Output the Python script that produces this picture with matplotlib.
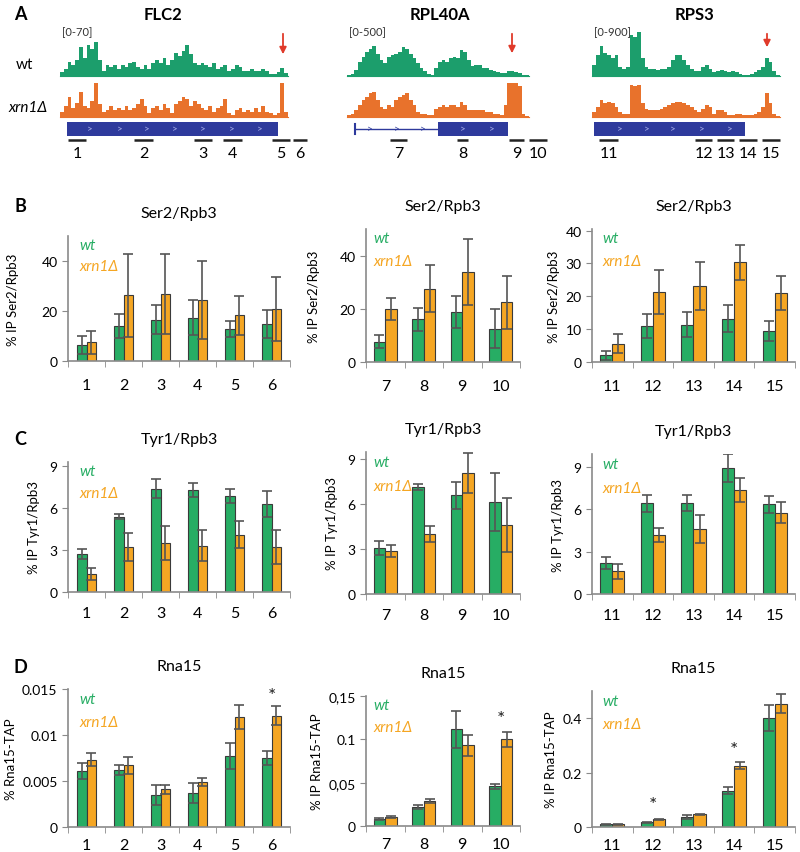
import matplotlib.pyplot as plt
import numpy as np

plt.rcParams["font.family"] = ["Lato", "DejaVu Sans"]

W, H = 800, 853
GREEN = "#27ad64"
ORANGE = "#f5a623"
TR_GREEN = "#1c9e6c"
TR_ORANGE = "#e8722c"
BLUE = "#2e3a9c"
EDGE = "#3a3a3a"
ERR = "#555555"
SPINE = "#8a8a8a"

# ---------------- panel A : coverage tracks (relative heights) ----------------
genes = ["FLC2", "RPL40A", "RPS3"]
scale_labels = ["[0-70]", "[0-500]", "[0-900]"]

flc2_wt = [0.1, 0.2, 0.4, 0.3, 0.45, 0.8, 0.5, 0.85, 0.75, 0.95, 0.45, 0.15, 0.3, 0.25, 0.3,
           0.2, 0.3, 0.25, 0.35, 0.4, 0.25, 0.2, 0.3, 0.2, 0.35, 0.45, 0.35, 0.5, 0.3, 0.45,
           0.65, 0.55, 0.7, 0.85, 0.6, 0.35, 0.3, 0.35, 0.3, 0.25, 0.35, 0.2, 0.25, 0.3, 0.15,
           0.2, 0.3, 0.25, 0.15, 0.15, 0.2, 0.15, 0.15, 0.2, 0.15, 0.05, 0.05, 0.1, 0.22, 0.08]
flc2_xrn1 = [0.15, 0.3, 0.55, 0.25, 0.4, 0.7, 0.3, 0.25, 0.45, 0.95, 0.35, 0.15, 0.2, 0.3, 0.2,
             0.25, 0.2, 0.3, 0.2, 0.25, 0.35, 0.5, 0.3, 0.1, 0.25, 0.3, 0.2, 0.35, 0.25, 0.1,
             0.35, 0.45, 0.55, 0.5, 0.3, 0.45, 0.35, 0.25, 0.2, 0.3, 0.15, 0.25, 0.3, 0.5, 0.1,
             0.05, 0.2, 0.25, 0.15, 0.2, 0.15, 0.25, 0.15, 0.3, 0.15, 0.1, 0.05, 0.1, 0.95, 0.15]
rpl40a_wt = [0.02, 0.05, 0.2, 0.45, 0.6, 0.75, 0.85, 0.95, 0.7, 0.5, 0.4, 0.6, 0.65, 0.7, 0.75,
             0.9, 0.85, 0.7, 0.55, 0.4, 0.25, 0.15, 0.05, 0.03, 0.25, 0.45, 0.5, 0.45, 0.55, 0.6,
             0.55, 0.8, 0.75, 0.5, 0.3, 0.35, 0.35, 0.25, 0.25, 0.2, 0.15, 0.12, 0.08, 0.1, 0.15,
             0.15, 0.12, 0.08, 0.04, 0.02]
rpl40a_xrn1 = [0.05, 0.1, 0.2, 0.35, 0.5, 0.6, 0.7, 0.75, 0.5, 0.3, 0.25, 0.35, 0.3, 0.5, 0.6,
               0.65, 0.7, 0.5, 0.35, 0.15, 0.1, 0.08, 0.05, 0.05, 0.25, 0.3, 0.35, 0.3, 0.35, 0.35,
               0.3, 0.45, 0.35, 0.2, 0.2, 0.2, 0.2, 0.2, 0.15, 0.15, 0.1, 0.08, 0.05, 0.35, 1.0,
               1.0, 1.0, 0.9, 0.1, 0.03]
rps3_wt = [0.25, 0.45, 0.65, 0.5, 0.45, 0.4, 0.45, 0.2, 0.15, 0.2, 0.9, 0.85, 0.95, 0.4, 0.2,
           0.15, 0.15, 0.12, 0.15, 0.15, 0.2, 0.35, 0.45, 0.45, 0.35, 0.25, 0.15, 0.1, 0.1, 0.2,
           0.25, 0.15, 0.08, 0.1, 0.12, 0.1, 0.08, 0.1, 0.08, 0.05, 0.03, 0.03, 0.05, 0.08, 0.12,
           0.2, 0.4, 0.3, 0.1, 0.02]
rps3_xrn1 = [0.15, 0.3, 0.5, 0.4, 0.45, 0.4, 0.3, 0.15, 0.1, 0.1, 0.95, 0.9, 0.95, 0.4, 0.25,
             0.2, 0.2, 0.2, 0.25, 0.3, 0.35, 0.4, 0.45, 0.45, 0.4, 0.35, 0.3, 0.2, 0.15, 0.25,
             0.35, 0.3, 0.1, 0.2, 0.2, 0.15, 0.05, 0.05, 0.1, 0.08, 0.05, 0.05, 0.05, 0.08, 0.15,
             0.3, 0.7, 0.4, 0.1, 0.03]

wt_tracks = [flc2_wt, rpl40a_wt, rps3_wt]
xrn1_tracks = [flc2_xrn1, rpl40a_xrn1, rps3_xrn1]

# browser layout (screen positions of the gene view)
track_span = [(60, 288), (347, 529), (592, 780)]
track_height_wt = [36, 32, 46]
track_height_xrn1 = [36, 34, 34]
gene_boxes = [(67, 278), (438, 508), (594, 745)]
intron_lines = [None, (355, 438), None]
chevrons = [[90, 120, 147, 175, 203, 232, 260], [370, 397, 423, 463, 492], [620, 647, 673, 702, 730]]
amplicon_labels = [["1", "2", "3", "4", "5", "6"], ["7", "8", "9", "10"], ["11", "12", "13", "14", "15"]]
amplicon_spans = [[(68, 86), (134, 153), (194, 212), (223, 242), (272, 290), (293, 307)],
                  [(390, 407), (457, 468), (509, 524), (529, 547)],
                  [(599, 618), (695, 712), (717, 734), (739, 757), (762, 780)]]
arrow_x = [283, 512, 767]
arrow_end = [58, 57, 51]
title_x = [163, 440, 695]

# ---------------- bar data ----------------
flc2_sites = ["1", "2", "3", "4", "5", "6"]
rpl40a_sites = ["7", "8", "9", "10"]
rps3_sites = ["11", "12", "13", "14", "15"]

ser2_wt = [[6.6, 14.2, 16.5, 17.4, 12.9, 14.8], [7.6, 16.0, 18.9, 12.5], [2.0, 11.0, 11.3, 13.2, 9.5]]
ser2_wt_sd = [[3.6, 4.8, 5.8, 7.0, 3.2, 5.7], [2.4, 4.4, 6.1, 7.4], [1.4, 3.6, 3.8, 4.2, 3.0]]
ser2_xrn1 = [[7.6, 26.4, 26.9, 24.5, 18.4, 21.0], [19.8, 27.6, 33.9, 22.4], [5.6, 21.4, 23.0, 30.3, 21.0]]
ser2_xrn1_sd = [[4.6, 16.6, 16.1, 15.5, 7.8, 12.8], [4.1, 8.9, 12.5, 9.9], [2.8, 6.7, 7.3, 5.3, 5.3]]

tyr1_wt = [[2.7, 5.4, 7.4, 7.3, 6.9, 6.3], [3.07, 7.14, 6.6, 6.15], [2.2, 6.4, 6.45, 8.9, 6.35]]
tyr1_wt_sd = [[0.35, 0.15, 0.65, 0.5, 0.5, 0.9], [0.45, 0.2, 0.9, 1.95], [0.4, 0.6, 0.55, 1.0, 0.6]]
tyr1_xrn1 = [[1.3, 3.2, 3.5, 3.3, 4.1, 3.2], [2.9, 4.0, 8.1, 4.6], [1.6, 4.15, 4.6, 7.35, 5.75]]
tyr1_xrn1_sd = [[0.45, 1.0, 1.2, 1.1, 0.95, 1.2], [0.4, 0.55, 1.35, 1.8], [0.55, 0.5, 1.0, 0.87, 0.75]]

rna15_wt = [[0.0061, 0.0062, 0.0035, 0.0037, 0.0077, 0.0075], [0.0077, 0.0223, 0.1115, 0.046],
            [0.0098, 0.018, 0.037, 0.134, 0.400]]
rna15_wt_sd = [[0.0009, 0.0005, 0.0011, 0.0011, 0.0014, 0.0008], [0.0013, 0.0023, 0.021, 0.003],
               [0.001, 0.002, 0.006, 0.012, 0.048]]
rna15_xrn1 = [[0.0073, 0.0067, 0.0041, 0.0049, 0.0120, 0.0121], [0.010, 0.0288, 0.093, 0.100],
              [0.010, 0.028, 0.046, 0.226, 0.454]]
rna15_xrn1_sd = [[0.0007, 0.0009, 0.0005, 0.0004, 0.0013, 0.0010], [0.001, 0.0027, 0.012, 0.009],
                 [0.001, 0.002, 0.003, 0.012, 0.034]]
rna15_stars = [[(5, 0.0143)], [(3, 0.124)], [(1, 0.082), (3, 0.285)]]


def px_axes(fig, x0, y0, x1, y1):
    return fig.add_axes([x0 / W, 1 - y1 / H, (x1 - x0) / W, (y1 - y0) / H])


def bar_panel(ax, sites, wt, wt_sd, xr, xr_sd, ylim, yticks, ytl, ylabel, title, xpad, width,
              labelpad=4, stars=()):
    x = np.arange(len(sites))
    ekw = dict(ecolor=ERR, elinewidth=1.2, capsize=3.5, capthick=1.2)
    ax.bar(x - width / 2, wt, width, yerr=wt_sd, color=GREEN, edgecolor=EDGE, lw=0.8, error_kw=ekw)
    ax.bar(x + width / 2, xr, width, yerr=xr_sd, color=ORANGE, edgecolor=EDGE, lw=0.8, error_kw=ekw)
    for i, y in stars:
        ax.text(i, y, "*", ha="center", va="center", fontsize=14, color="#222222")
    ax.set_xlim(-0.5, len(sites) - 0.5)
    ax.set_ylim(*ylim)
    ax.set_yticks(yticks)
    ax.set_yticklabels(ytl, fontsize=10)
    ax.set_xticks(x)
    ax.set_xticklabels(sites, fontsize=11.5)
    ax.set_xticks(np.arange(len(sites) + 1) - 0.5, minor=True)
    ax.tick_params(axis="x", which="major", length=0, pad=xpad)
    ax.tick_params(axis="x", which="minor", length=4, color=SPINE, direction="out")
    ax.tick_params(axis="y", length=4, color=SPINE)
    for s in ["top", "right"]:
        ax.spines[s].set_visible(False)
    for s in ["left", "bottom"]:
        ax.spines[s].set_color(SPINE)
        ax.spines[s].set_linewidth(1.2)
    ax.set_ylabel(ylabel, fontsize=9.5, labelpad=labelpad)
    ax.set_title(title, fontsize=11.5, pad=14)
    ax.text(0.05, 0.93, "wt", transform=ax.transAxes, color=GREEN, style="italic", fontsize=11, va="center")
    ax.text(0.05, 0.76, "xrn1Δ", transform=ax.transAxes, color=ORANGE, style="italic", fontsize=11,
            va="center")


fig = plt.figure(figsize=(W / 100, H / 100), dpi=100)

# ---------------- panel A ----------------
axA = fig.add_axes([0, 1 - 175 / H, 1, 175 / H])
axA.set_xlim(0, W)
axA.set_ylim(175, 0)
axA.axis("off")
axA.text(20, 15, "A", fontsize=13, fontweight="bold", ha="center", va="center")
axA.text(16, 65, "wt", fontsize=11, va="center")
axA.text(8, 108, "xrn1Δ", fontsize=11, style="italic", va="center")
for g in range(3):
    x0, x1 = track_span[g]
    axA.text(title_x[g], 15, genes[g], fontsize=12, fontweight="bold", ha="center", va="center")
    axA.text(x0 + 2, 33, scale_labels[g], fontsize=8, va="center", color="#333333")
    edges = np.linspace(x0, x1, len(wt_tracks[g]) + 1)
    axA.stairs(77 - np.array(wt_tracks[g]) * track_height_wt[g], edges, baseline=77, fill=True,
               color=TR_GREEN, lw=0)
    edges = np.linspace(x0, x1, len(xrn1_tracks[g]) + 1)
    axA.stairs(118 - np.array(xrn1_tracks[g]) * track_height_xrn1[g], edges, baseline=118, fill=True,
               color=TR_ORANGE, lw=0)
    axA.plot([x0, x1], [77, 77], color=TR_GREEN, lw=0.8)
    axA.plot([x0, x1], [118, 118], color=TR_ORANGE, lw=0.8)
    b0, b1 = gene_boxes[g]
    axA.add_patch(plt.Rectangle((b0, 123), b1 - b0, 14, color=BLUE, lw=0))
    if intron_lines[g] is not None:
        i0, i1 = intron_lines[g]
        axA.plot([i0, i1], [130, 130], color=BLUE, lw=1)
        axA.plot([i0, i0], [125, 135], color=BLUE, lw=1.5)
    for cx in chevrons[g]:
        inside = b0 <= cx <= b1
        axA.text(cx, 130, ">", color="#a9b0ea" if inside else BLUE, fontsize=7, ha="center", va="center")
    for (a0, a1), lab in zip(amplicon_spans[g], amplicon_labels[g]):
        axA.plot([a0, a1], [141, 141], color="#222222", lw=1.8, solid_capstyle="butt")
        axA.text((a0 + a1) / 2, 154, lab, fontsize=11.5, ha="center", va="center")
    axA.annotate("", xy=(arrow_x[g], arrow_end[g]), xytext=(arrow_x[g], 32),
                 arrowprops=dict(arrowstyle="-|>", color="#e03a2a", lw=1.3, mutation_scale=10))

# ---------------- panels B, C, D ----------------
col_x = [(68, 290), (366, 520), (592, 795)]
widths = [0.27, 0.3, 0.3]
sites = [flc2_sites, rpl40a_sites, rps3_sites]

rowB = [(237, 362), (230, 363), (230, 363)]
limB = [(0, 50), (0, 50), (0, 40.5)]
tickB = [[0, 20, 40], [0, 20, 40], [0, 10, 20, 30, 40]]
padB = [16, 14, 4]
for c in range(3):
    ax = px_axes(fig, col_x[c][0], rowB[c][0], col_x[c][1], rowB[c][1])
    bar_panel(ax, sites[c], ser2_wt[c], ser2_wt_sd[c], ser2_xrn1[c], ser2_xrn1_sd[c], limB[c], tickB[c],
              [str(t) for t in tickB[c]], "% IP Ser2/Rpb3", "Ser2/Rpb3", 12, widths[c], labelpad=padB[c])

rowC = [(463, 593), (453, 595), (455, 595)]
limC = [(0, 9.3), (0, 9.5), (0, 9.9)]
for c in range(3):
    ax = px_axes(fig, col_x[c][0], rowC[c][0], col_x[c][1], rowC[c][1])
    bar_panel(ax, sites[c], tyr1_wt[c], tyr1_wt_sd[c], tyr1_xrn1[c], tyr1_xrn1_sd[c], limC[c], [0, 3, 6, 9],
              ["0", "3", "6", "9"], "% IP Tyr1/Rpb3", "Tyr1/Rpb3", 10, widths[c], labelpad=7)

rowD = [(690, 828), (697, 827), (692, 828)]
limD = [(0, 0.015), (0, 0.15), (0, 0.5)]
tickD = [[0, 0.005, 0.01, 0.015], [0, 0.05, 0.1, 0.15], [0, 0.2, 0.4]]
tlD = [["0", "0.005", "0.01", "0.015"], ["0", "0,05", "0.1", "0,15"], ["0", "0.2", "0.4"]]
ylD = ["% Rna15-TAP", "% IP Rna15-TAP", "% IP Rna15-TAP"]
for c in range(3):
    ax = px_axes(fig, col_x[c][0], rowD[c][0], col_x[c][1], rowD[c][1])
    bar_panel(ax, sites[c], rna15_wt[c], rna15_wt_sd[c], rna15_xrn1[c], rna15_xrn1_sd[c], limD[c], tickD[c],
              tlD[c], ylD[c], "Rna15", 8, widths[c], stars=rna15_stars[c])

for lab, y in [("B", 207), ("C", 440), ("D", 668)]:
    fig.text(20 / W, 1 - y / H, lab, fontsize=13, fontweight="bold", ha="center", va="center")

fig.savefig("out.png", dpi=100)
